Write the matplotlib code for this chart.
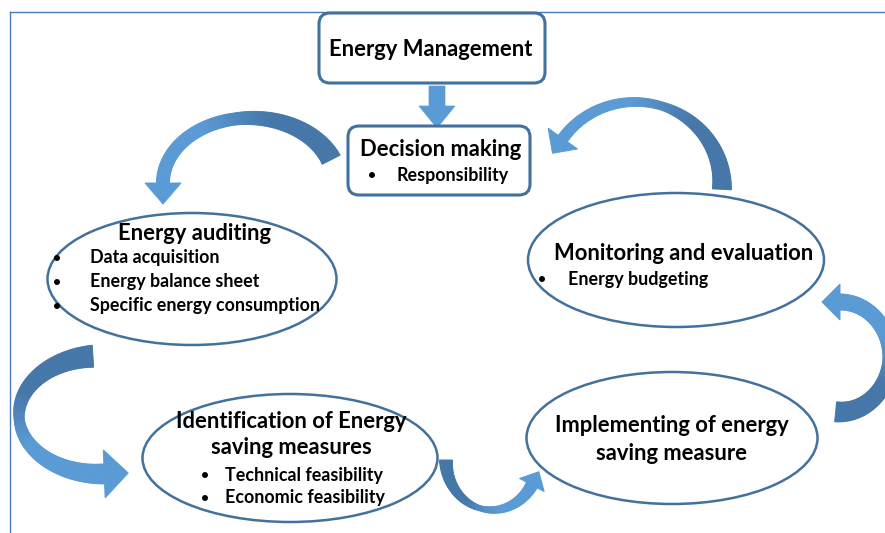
import numpy as np
import matplotlib.pyplot as plt
import matplotlib.colors as mcolors
from matplotlib.patches import FancyBboxPatch, Ellipse, Polygon

plt.rcParams['font.family'] = ['Lato', 'DejaVu Sans']

# texts of the diagram
top_box = 'Energy Management'
decision_title = 'Decision making'
decision_items = ['Responsibility']
audit_title = 'Energy auditing'
audit_items = ['Data acquisition', 'Energy balance sheet', 'Specific energy consumption']
monitor_title = 'Monitoring and evaluation'
monitor_items = ['Energy budgeting']
ident_title = ['Identification of Energy', 'saving measures']
ident_items = ['Technical feasibility', 'Economic feasibility']
impl_title = ['Implementing of energy', 'saving measure']

EDGE = '#41719c'
DARK = '#4677a9'
LIGHT = '#5b9bd5'
FRAME = '#4a7ebb'
TITLE_FS = 15.8
ITEM_FS = 12.9
BULLET_FS = 10


def curved_arrow(ax, cx, cy, rx, ry, t0, t1, widths, head_w, head_l, n=120):
    # block arrow bent along an ellipse arc (pixel coords, y down)
    th = np.radians(np.linspace(t0, t1, n))
    s = np.sign(t1 - t0)
    px = cx + rx * np.cos(th)
    py = cy - ry * np.sin(th)
    tx = -rx * np.sin(th) * s
    ty = -ry * np.cos(th) * s
    ln = np.hypot(tx, ty)
    tx, ty = tx / ln, ty / ln
    nx, ny = -ty, tx
    u = np.linspace(0, 1, n)
    w = np.interp(u, [0, 0.5, 1], widths) / 2
    lx, ly = px + nx * w, py + ny * w
    rx_, ry_ = px - nx * w, py - ny * w
    c0 = np.array(mcolors.to_rgb(DARK))
    c1 = np.array(mcolors.to_rgb(LIGHT))
    for i in range(n - 1):
        f = np.clip((u[i] - 0.35) / 0.3, 0, 1)
        col = c0 * (1 - f) + c1 * f
        quad = [(lx[i], ly[i]), (lx[i + 1], ly[i + 1]),
                (rx_[i + 1], ry_[i + 1]), (rx_[i], ry_[i])]
        ax.add_patch(Polygon(quad, closed=True, fc=col, ec=col, lw=0.7, zorder=1))
    ex, ey = px[-1], py[-1]
    head = [(ex + nx[-1] * head_w, ey + ny[-1] * head_w),
            (ex + tx[-1] * head_l, ey + ty[-1] * head_l),
            (ex - nx[-1] * head_w, ey - ny[-1] * head_w)]
    ax.add_patch(Polygon(head, closed=True, fc=LIGHT, ec=LIGHT, lw=0.7, zorder=1))


fig = plt.figure(figsize=(8.85, 5.33), dpi=100)
ax = fig.add_axes([0, 0, 1, 1])
ax.set_xlim(0, 885)
ax.set_ylim(533, 0)
ax.axis('off')

# frame lines
ax.plot([10, 885], [12, 12], color=FRAME, lw=1)
ax.plot([10, 10], [12, 533], color=FRAME, lw=1)

# curved arrows
curved_arrow(ax, 250, 183, 87, 65, 21, 180, (20, 12, 13), 18, 21)
curved_arrow(ax, 635, 185, 87, 83, -3, 146, (19, 8, 11), 18, 18)
curved_arrow(ax, 100, 415, 81, 59, 95, 273, (22, 10, 20), 24, 24)
curved_arrow(ax, 492, 460, 46, 50, 180, 330, (13, 5, 12), 14, 15)
curved_arrow(ax, 840, 357, 50, 55, -95, 90, (20, 14, 16), 18, 18)

# straight down arrow
down = [(429, 86), (445, 86), (445, 106), (455, 106), (437, 128),
        (419, 106), (429, 106)]
ax.add_patch(Polygon(down, closed=True, fc=LIGHT, ec=LIGHT, lw=0.5, zorder=1))

# rounded boxes
for (x0, y0, x1, y1) in [(319, 13, 545, 83), (348, 126, 530, 195)]:
    ax.add_patch(FancyBboxPatch((x0, y0), x1 - x0, y1 - y0,
                                boxstyle='round,pad=0,rounding_size=11',
                                fc='white', ec=EDGE, lw=2.2, zorder=2))

# ellipses
for (cx, cy, w, h) in [(192, 279, 289, 132), (676, 260, 296, 134),
                       (290, 458, 295, 128), (672, 438, 291, 132)]:
    ax.add_patch(Ellipse((cx, cy), w, h, fc='white', ec=EDGE, lw=1.8, zorder=2))

tkw = dict(fontweight='bold', color='black', zorder=3)

ax.text(431, 49, top_box, ha='center', va='center', fontsize=TITLE_FS, **tkw)

ax.text(441, 150, decision_title, ha='center', va='center', fontsize=TITLE_FS, **tkw)
ax.text(372, 175, '•', ha='center', va='center', fontsize=BULLET_FS, **tkw)
ax.text(397, 175, decision_items[0], ha='left', va='center', fontsize=ITEM_FS, **tkw)

ax.text(195, 233, audit_title, ha='center', va='center', fontsize=TITLE_FS, **tkw)
for i, item in enumerate(audit_items):
    y = 258 + i * 24
    ax.text(57, y, '•', ha='center', va='center', fontsize=BULLET_FS, **tkw)
    ax.text(90, y, item, ha='left', va='center', fontsize=ITEM_FS, **tkw)

ax.text(684, 253, monitor_title, ha='center', va='center', fontsize=TITLE_FS, **tkw)
ax.text(542, 279, '•', ha='center', va='center', fontsize=BULLET_FS, **tkw)
ax.text(568, 279, monitor_items[0], ha='left', va='center', fontsize=ITEM_FS, **tkw)

for i, line in enumerate(ident_title):
    ax.text(291, 421 + i * 26, line, ha='center', va='center', fontsize=TITLE_FS, **tkw)
for i, item in enumerate(ident_items):
    y = 475 + i * 23
    ax.text(205, y, '•', ha='center', va='center', fontsize=BULLET_FS, **tkw)
    ax.text(225, y, item, ha='left', va='center', fontsize=ITEM_FS, **tkw)

for i, line in enumerate(impl_title):
    ax.text(672, 426 + i * 27, line, ha='center', va='center', fontsize=TITLE_FS, **tkw)

fig.savefig('out.png', dpi=100, facecolor='white')
